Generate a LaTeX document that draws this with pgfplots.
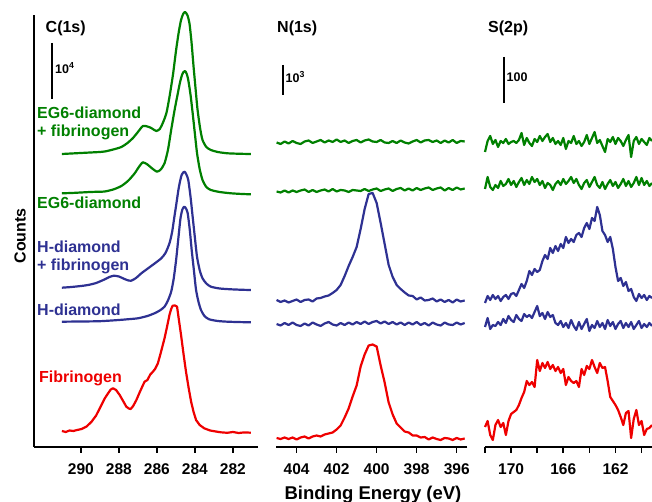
\documentclass[border=0pt]{standalone}
\usepackage{fontspec}
\setmainfont{Liberation Sans}
\usepackage{pgfplots}
\usepackage{pgfplotstable}
\pgfplotsset{compat=1.18}

\definecolor{cgreen}{RGB}{0,128,0}
\definecolor{cblue}{RGB}{46,49,146}
\definecolor{cred}{RGB}{238,0,0}

% N(1s): x, EG6+fib, EG6, H+fib, H, fibrinogen (offset counts, px units)
\pgfplotstableread{
x     ef    e     hf    h     f
405.0 304.5 255.5 147   123   9
404.8 303   254.5 145   121.5 8
404.6 305.5 256.5 146.5 124   9.5
404.4 303.5 254.5 144.5 122   8
404.2 306   256.5 146   124.5 9.5
404.0 304   255   147.5 122   7.5
403.8 303   256.5 145   121   9.5
403.6 305.5 257.5 147   123.5 10.5
403.4 306.5 255   147.5 121.5 8.5
403.2 304   257   145.5 124.5 10.5
403.0 305.5 255   148.5 122.5 11.5
402.8 307   256.5 149   121   10.5
402.6 304.5 257.5 150.5 123.5 12.5
402.4 306.5 255.5 151.5 125   13.5
402.2 305   258   154   122.5 14.5
402.0 307.5 255.5 157   121.5 17.5
401.8 305   257   162   124   21.5
401.6 306.5 256.5 171   122   29.5
401.4 304   255   181   124.5 38.5
401.2 306   257   190   122.5 50.5
401.0 307   256.5 200   125   61.5
400.8 304.5 256   218   123   80.5
400.6 306.5 258   238   125.5 92.5
400.4 307.5 256   253   123   101.5
400.2 305.5 257.5 254   125   102.5
400.0 305   258.5 244   126   100.5
399.8 307   256   224   123.5 81.5
399.6 304.5 257.5 203   125.5 64.5
399.4 304   258.5 182   123   44.5
399.2 306   256   170   125   32.5
399.0 304   258   162   122.5 23.5
398.8 306.5 259   158   124.5 19.5
398.6 304.5 256.5 154.5 122   15.5
398.4 303.5 258.5 151.5 124.5 14.5
398.2 305.5 256.5 151   122.5 11.5
398.0 307   259   147.5 125   11.5
397.8 304.5 257   149.5 122   9.5
397.6 306.5 258.5 146.5 124   10
397.4 307   259.5 147   121.5 7.5
397.2 305   257   148.5 124.5 9.5
397.0 306.5 258.5 145.5 122.5 8
396.8 304   259.5 147.5 121.5 7
396.6 306.5 256.5 145   124.5 9
396.4 304.5 259   147   122.5 8.5
396.2 307   257   144.5 122   7
396.0 304   259.5 147.5 124.5 9
395.8 306   257.5 145.5 122.5 7.5
395.6 305.5 258.5 146.5 124   8.5
}\Ntab

% S(2p): x, EG6+fib, EG6, H+fib, H, fibrinogen
\pgfplotstableread{
x     ef  e   hf  h   f
172.0 295 258 144 120 20
171.8 306 270 151 129 26
171.6 311 260 147 118 12
171.4 303 257 152 122 7
171.2 307 262 148 121 22
171.0 300 259 151 125 27
170.8 306 266 146 122 20
170.6 304 261 150 128 24
170.4 308 263 152 124 12
170.2 303 268 148 131 26
170.0 305 262 153 127 33
169.8 306 266 154 125 35
169.6 304 260 151 132 37
169.4 307 265 157 128 42
169.2 314 269 163 126 49
169.0 302 262 159 133 55
168.8 309 267 166 130 66
168.6 304 263 176 132 62
168.4 301 270 172 129 65
168.2 308 265 178 135 60
168.0 305 268 175 141 87
167.8 311 262 177 131 76
167.6 306 266 186 134 84
167.4 310 259 192 128 79
167.2 313 264 188 135 85
167.0 305 262 199 130 78
166.8 309 257 194 132 82
166.6 303 263 201 124 76
166.4 306 266 196 122 80
166.2 302 262 203 126 74
166.0 309 268 199 120 78
165.8 298 263 210 124 62
165.6 306 266 204 119 70
165.4 304 270 208 127 66
165.2 311 264 205 121 64
165.0 303 268 212 117 66
164.8 306 262 214 125 60
164.6 301 258 210 118 78
164.4 305 264 219 123 72
164.2 312 267 224 128 81
164.0 303 260 218 116 78
163.8 309 265 229 122 87
163.6 315 270 226 119 80
163.4 304 262 240 126 74
163.2 307 259 232 120 84
163.0 301 265 216 124 79
162.8 295 258 212 118 80
162.6 308 263 205 127 66
162.4 305 267 210 121 50
162.2 310 261 198 125 46
162.0 303 265 180 118 42
161.8 309 259 166 123 37
161.6 306 263 169 126 30
161.4 301 268 161 119 22
161.2 307 261 165 124 34
161.0 312 266 156 120 36
160.8 290 260 158 125 9
160.6 306 264 150 118 28
160.4 310 270 146 122 37
160.2 303 262 153 126 22
160.0 308 269 149 119 26
159.8 305 262 152 123 12
159.6 302 266 147 120 18
159.4 309 261 151 124 19
159.2 306 264 149 121 22
}\Stab

\pgfplotsset{
 panel/.style={
  scale only axis, anchor=south west, height=432pt, ymin=0, ymax=432,
  x dir=reverse, clip=false,
  axis x line*=bottom, axis line style={-,line width=1.6pt},
  tick align=outside, major tick length=6pt, minor tick length=6pt,
  every tick/.style={black,line width=1.6pt},
  ytick=\empty,
  tick label style={font=\fontsize{15.5}{15.5}\selectfont\bfseries},
  /pgf/number format/assume math mode=true,
  /pgf/number format/1000 sep={},
  xticklabel style={yshift=-7pt},
 },
 trace/.style={line width=2.2pt,line join=round,mark=none},
}

\begin{document}
\begin{tikzpicture}
\useasboundingbox (0,0) rectangle (652pt,502pt);

% C(1s)
\begin{axis}[panel, at={(34pt,55pt)}, width=224pt,
 xmin=280.68, xmax=292.47, axis y line*=left, xtick={282,284,...,290}]
\addplot[trace,cgreen,smooth,tension=0.4] coordinates {
 (291.0,293) (290.5,293.5) (290.0,294) (289.5,294.5) (289.0,295) (288.74,295.5)
 (288.3,297.5) (287.87,300) (287.55,304) (287.26,309) (287.0,315) (286.74,321)
 (286.5,320.5) (286.3,319) (286.04,316) (285.85,318) (285.69,324) (285.5,334)
 (285.34,350) (285.15,373) (284.99,397) (284.85,415) (284.73,427) (284.62,433)
 (284.52,435) (284.4,432) (284.29,424) (284.18,405) (284.07,380) (283.96,357)
 (283.86,337) (283.72,318) (283.6,307) (283.4,300) (283.16,297) (282.8,295)
 (282.29,293.7) (281.6,293.2) (281.06,293)};
\addplot[trace,cgreen,smooth,tension=0.4] coordinates {
 (291.0,253.7) (290.5,254) (290.0,254.5) (289.5,255) (289.0,255.3) (288.74,255.5)
 (288.3,257.5) (287.87,261) (287.5,266.5) (287.17,273.7) (286.95,280) (286.74,284.7)
 (286.5,282.5) (286.3,279.3) (286.0,275.3) (285.8,277.5) (285.6,283.7) (285.42,297)
 (285.25,317) (285.07,337) (284.9,353.7) (284.78,365) (284.68,372) (284.6,375)
 (284.52,376) (284.43,373) (284.35,367) (284.23,352) (284.12,334) (284.0,313)
 (283.89,294) (283.75,278) (283.6,267) (283.4,260) (283.16,257) (282.7,255)
 (282.11,253.7) (281.5,253) (281.06,252.7)};
\addplot[trace,cblue,smooth,tension=0.4] coordinates {
 (291.0,159.3) (290.5,160) (290.0,161) (289.62,162) (289.2,164) (288.74,167.7)
 (288.5,170) (288.26,171.3) (288.0,170.5) (287.79,168.7) (287.55,166.8) (287.35,166.3)
 (287.1,169) (286.82,173.7) (286.55,177.5) (286.3,181) (286.05,184.5) (285.77,188.7)
 (285.55,194) (285.34,203.7) (285.2,215) (285.08,230.3) (284.97,244) (284.87,257)
 (284.78,266) (284.7,272) (284.62,274.5) (284.54,275.3) (284.45,272.5) (284.35,267)
 (284.23,250) (284.12,230.3) (284.0,209) (283.89,190.3) (283.75,177) (283.6,168.7)
 (283.4,163.5) (283.16,160.3) (282.7,158.5) (282.11,157.7) (281.5,157.2) (281.06,157)};
\addplot[trace,cblue,smooth,tension=0.4] coordinates {
 (291.0,125.3) (290.0,125.5) (289.0,125.8) (288.0,127) (287.5,127.8) (287.0,128.7)
 (286.5,131) (286.13,133.7) (285.85,136.5) (285.6,140.3) (285.42,146.5) (285.25,155.3)
 (285.12,168) (284.99,187) (284.87,209) (284.76,228.7) (284.66,237.5) (284.56,240.3)
 (284.47,238.5) (284.38,233.7) (284.27,217) (284.17,197) (284.05,176) (283.94,157)
 (283.81,145) (283.68,137) (283.5,131) (283.25,127.7) (282.8,126) (282.29,125.3)
 (281.6,124.9) (281.06,124.7)};
\addplot[trace,cred] coordinates {
 (291.0,16) (290.8,15) (290.6,16.5) (290.4,16) (290.2,17) (289.96,18) (289.7,20.5)
 (289.44,25.3) (289.2,31.5) (288.92,42) (288.75,48.5) (288.57,53.7) (288.43,57.5)
 (288.31,58.7) (288.15,57) (287.96,52) (287.78,46) (287.61,40.3) (287.48,38.5)
 (287.38,38) (287.25,41) (287.08,47) (286.9,55) (286.78,60) (286.65,65.3) (286.5,67)
 (286.35,72.5) (286.21,75.3) (286.1,78) (285.95,83.7) (285.8,94) (285.6,108.7)
 (285.47,120) (285.34,132) (285.25,138) (285.17,141.3) (285.05,141.5) (284.94,140.3)
 (284.85,128) (284.73,112) (284.6,93) (284.47,75.3) (284.33,59) (284.2,45.3)
 (284.07,35) (283.94,27) (283.75,22) (283.51,18.7) (283.2,16.5) (282.9,15.5)
 (282.64,14.7) (282.3,14.2) (282.0,15) (281.7,14) (281.4,14.6) (281.06,14.3)};
\end{axis}

% N(1s)
\begin{axis}[panel, at={(276pt,55pt)}, width=191.3pt,
 xmin=395.47, xmax=405.03, axis y line=none, xtick={396,398,...,404}]
\addplot[trace,cgreen] table[x=x,y=ef] {\Ntab};
\addplot[trace,cgreen] table[x=x,y=e] {\Ntab};
\addplot[trace,cblue] table[x=x,y=hf] {\Ntab};
\addplot[trace,cblue] table[x=x,y=h] {\Ntab};
\addplot[trace,cred] table[x=x,y=f] {\Ntab};
\end{axis}

% S(2p)
\begin{axis}[panel, at={(485pt,55pt)}, width=167pt,
 xmin=159.2, xmax=172.0, axis y line=none,
 xtick={162,166,170}, minor xtick={160,164,168,172}]
\addplot[trace,cgreen] table[x=x,y=ef] {\Stab};
\addplot[trace,cgreen] table[x=x,y=e] {\Stab};
\addplot[trace,cblue] table[x=x,y=hf] {\Stab};
\addplot[trace,cblue] table[x=x,y=h] {\Stab};
\addplot[trace,cred] table[x=x,y=f] {\Stab};
\end{axis}

% panel titles and scale bars
\begin{scope}[every node/.style={inner sep=0pt,font=\fontsize{16}{16}\selectfont\bfseries}]
\node[anchor=west] at (45.5pt,474pt) {C(1s)};
\node[anchor=west] at (277pt,474pt) {N(1s)};
\node[anchor=west] at (488pt,474pt) {S(2p)};
\draw[line width=2pt] (52.3pt,459pt) -- (52.3pt,403pt);
\draw[line width=2pt] (282.7pt,437pt) -- (282.7pt,407pt);
\draw[line width=2pt] (504pt,445pt) -- (504pt,399pt);
\node[anchor=west,font=\fontsize{12.5}{12.5}\selectfont\bfseries] at (55pt,434pt) {10\textsuperscript{4}};
\node[anchor=west,font=\fontsize{12.5}{12.5}\selectfont\bfseries] at (285.5pt,425pt) {10\textsuperscript{3}};
\node[anchor=west,font=\fontsize{12.5}{12.5}\selectfont\bfseries] at (506.5pt,425pt) {100};

\node[anchor=base west,text=cgreen] at (37pt,383.3pt) {EG6-diamond};
\node[anchor=base west,text=cgreen] at (37pt,365.3pt) {+ fibrinogen};
\node[anchor=base west,text=cgreen] at (37pt,293pt) {EG6-diamond};
\node[anchor=base west,text=cblue] at (37pt,249pt) {H-diamond};
\node[anchor=base west,text=cblue] at (37pt,231.3pt) {+ fibrinogen};
\node[anchor=base west,text=cblue] at (37pt,186.3pt) {H-diamond};
\node[anchor=base west,text=cred] at (39pt,119.3pt) {Fibrinogen};

\node[rotate=90] at (20pt,266pt) {Counts};
\node[anchor=base,font=\fontsize{18.5}{18.5}\selectfont\bfseries] at (373pt,2.7pt) {Binding Energy (eV)};
\end{scope}
\end{tikzpicture}
\end{document}
